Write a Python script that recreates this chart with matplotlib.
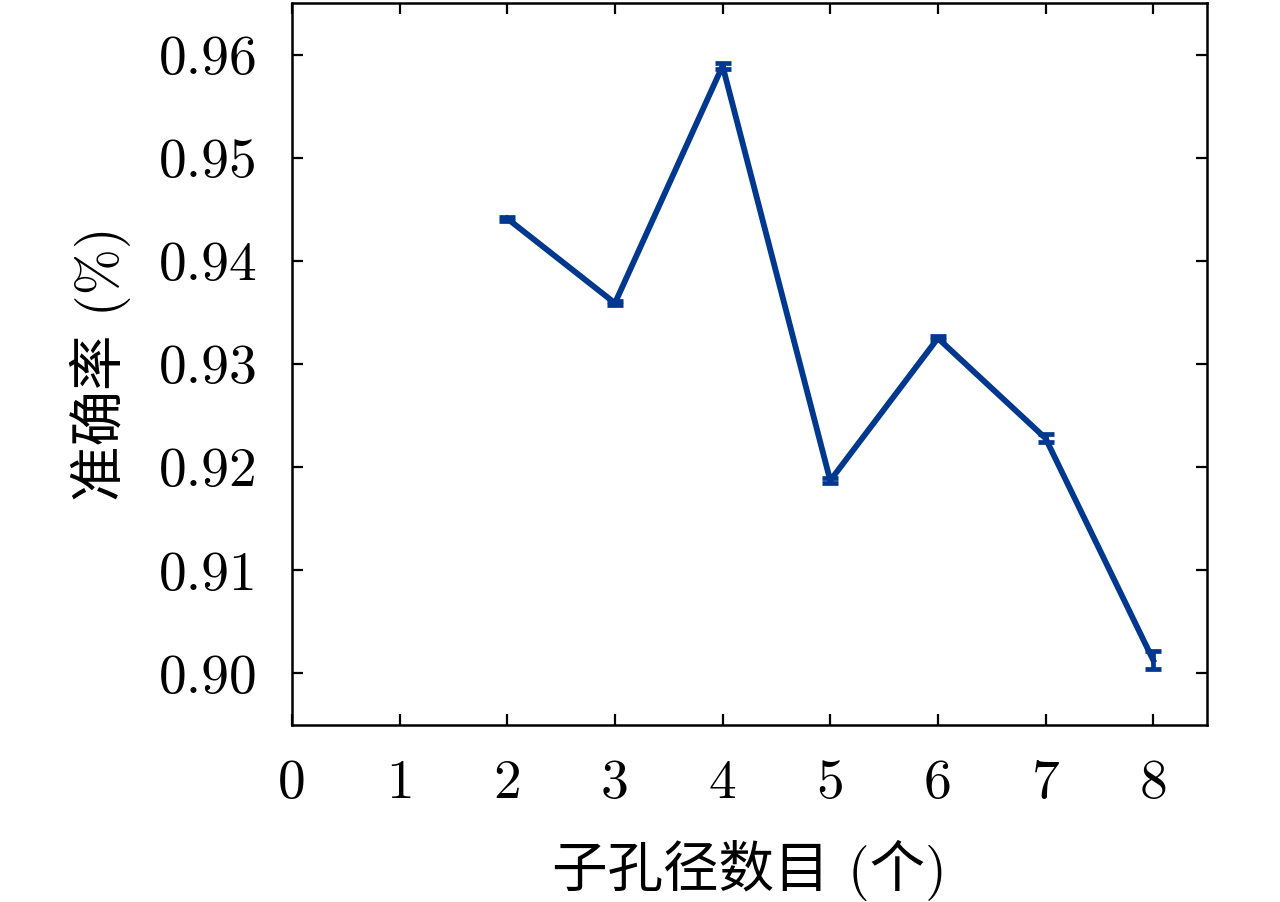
import matplotlib
matplotlib.use('Agg')
from matplotlib import pyplot as plt

# sub-aperture count vs accuracy
n_sub = [2, 3, 4, 5, 6, 7, 8]
acc = [0.9441, 0.9359, 0.9589, 0.9187, 0.9325, 0.9228, 0.9013]
acc_err = [0.0002, 0.0002, 0.0003, 0.0002, 0.0002, 0.0004, 0.0009]
xticks = [0, 1, 2, 3, 4, 5, 6, 7, 8]
yticks = [0.90, 0.91, 0.92, 0.93, 0.94, 0.95, 0.96]

plt.rcParams['font.family'] = ['cmr10', 'Noto Sans CJK SC']
plt.rcParams['axes.unicode_minus'] = False

fig = plt.figure(figsize=(12.8, 9.02), dpi=100)
ax = fig.add_axes([292/1280, 1 - 725/902, (1207 - 292)/1280, (725 - 3)/902])

ax.errorbar(n_sub, acc, yerr=acc_err, color='#00388f', lw=4.2,
            elinewidth=3.4, capsize=5.5, capthick=3.4)

ax.set_xlim(0, 8.5)
ax.set_ylim(0.895, 0.965)
ax.set_xticks(xticks)
ax.set_xticklabels([str(v) for v in xticks])
ax.set_yticks(yticks)
ax.set_yticklabels(['%.2f' % v for v in yticks])
ax.tick_params(direction='in', top=True, right=True, length=8, width=1.6,
               labelsize=40, pad=25)
for s in ax.spines.values():
    s.set_linewidth(1.8)

ax.set_xlabel('子孔径数目 (个)', fontsize=40, labelpad=22)
ax.set_ylabel('准确率 (%)', fontsize=40, labelpad=20)

fig.savefig('out.png', dpi=100)
